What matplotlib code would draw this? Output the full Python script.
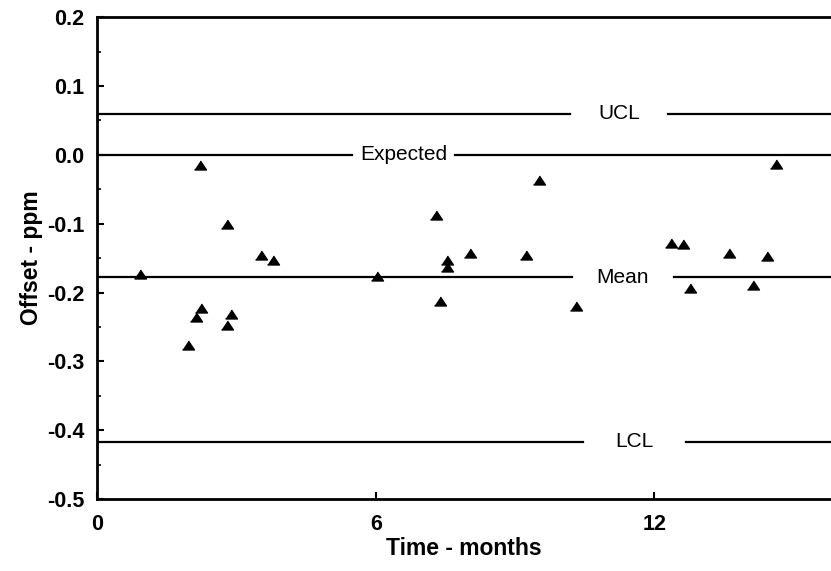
import matplotlib
matplotlib.use("Agg")
from matplotlib import pyplot as plt
from matplotlib.ticker import MultipleLocator, FormatStrFormatter

plt.rcParams['font.family'] = ['Liberation Sans', 'DejaVu Sans']
plt.rcParams['axes.unicode_minus'] = False

# offset readings over time
months = [0.93, 1.97, 2.13, 2.22, 2.24, 2.79, 2.79, 2.88, 3.53, 3.79,
          6.03, 7.29, 7.38, 7.54, 7.54, 8.04, 9.24, 9.52, 10.32,
          12.35, 12.62, 12.77, 13.61, 14.12, 14.43, 14.61]
offset = [-0.173, -0.276, -0.235, -0.015, -0.223, -0.101, -0.247, -0.231, -0.146, -0.153,
          -0.176, -0.087, -0.212, -0.153, -0.163, -0.143, -0.146, -0.036, -0.219,
          -0.128, -0.130, -0.194, -0.142, -0.189, -0.147, -0.014]

# control chart reference lines
ref_names = ["UCL", "Expected", "Mean", "LCL"]
ref_values = [0.06, 0.0, -0.178, -0.417]
# where each line is broken for its label (months)
gap_start = [10.19, 5.49, 10.23, 10.47]
gap_end = [12.30, 7.71, 12.41, 12.67]

x_max = 15.8

fig = plt.figure(figsize=(8.31, 5.71), dpi=100)
ax = fig.add_axes([0.1167, 0.126, 0.8833, 0.844])

for name, val, g0, g1 in zip(ref_names, ref_values, gap_start, gap_end):
    ax.plot([0, g0], [val, val], color='black', lw=1.6)
    ax.plot([g1, x_max], [val, val], color='black', lw=1.6)
    ax.text((g0 + g1) / 2, val, name, ha='center', va='center', fontsize=15)

# flattened triangle marker
tri = [(-1, -0.75), (1, -0.75), (0, 0.75)]
ax.plot(months, offset, linestyle='none', marker=tri, markersize=8.6,
        color='black', clip_on=False)

ax.set_xlim(0, x_max)
ax.set_ylim(-0.5, 0.2)
ax.set_xticks([0, 6, 12])
ax.yaxis.set_major_locator(MultipleLocator(0.1))
ax.yaxis.set_minor_locator(MultipleLocator(0.05))
ax.yaxis.set_major_formatter(FormatStrFormatter('%.1f'))
ax.tick_params(direction='in', length=5, width=1.5, labelsize=15.5)
ax.tick_params(which='minor', direction='in', length=3, width=1.2)
ax.tick_params(axis='y', pad=9)
ax.tick_params(axis='x', pad=11)
for lab in ax.get_xticklabels() + ax.get_yticklabels():
    lab.set_fontweight('bold')

for side in ['left', 'bottom', 'top']:
    ax.spines[side].set_linewidth(2)
ax.spines['right'].set_visible(False)

ax.set_xlabel("Time - months", fontsize=16.5, fontweight='bold', labelpad=1)
ax.set_ylabel("Offset - ppm", fontsize=16.5, fontweight='bold', labelpad=3)

fig.savefig("out.png", dpi=100)
